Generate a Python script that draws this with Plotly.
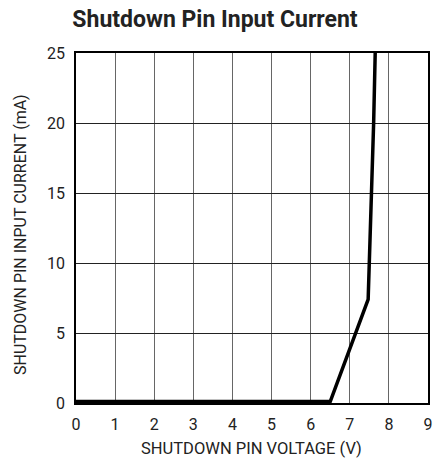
import plotly.graph_objects as go

voltage = [0, 6.5, 7.47, 7.5, 7.55, 7.61, 7.65]
current = [0.1, 0.1, 7.4, 10, 15, 20, 25]

x_ticks = [0, 1, 2, 3, 4, 5, 6, 7, 8, 9]
y_ticks = [0, 5, 10, 15, 20, 25]

font_family = "Liberation Sans Narrow, Roboto, Liberation Sans, Arial, sans-serif"
W, H = 435, 466

fig = go.Figure()
fig.add_trace(go.Scatter(x=voltage, y=current, mode="lines",
                         line=dict(color="black", width=3.5), cliponaxis=False,
                         showlegend=False, hoverinfo="skip"))

fig.update_layout(
    width=W, height=H,
    margin=dict(l=76, r=7, t=53, b=63),
    paper_bgcolor="white", plot_bgcolor="white",
    title=dict(text="<b>Shutdown Pin Input Current</b>", x=215/W, xanchor="center",
               y=1 - 19/H, yanchor="middle",
               font=dict(family=font_family, size=23, color="#222")),
    font=dict(family=font_family, color="#222"),
    annotations=[
        dict(text="SHUTDOWN PIN VOLTAGE (V)", xref="paper", yref="paper",
             x=(251 - 76) / (W - 83), y=-(448 - 403) / (H - 116),
             xanchor="center", yanchor="middle", showarrow=False,
             font=dict(size=16.5, color="#222")),
        dict(text="SHUTDOWN PIN INPUT CURRENT (mA)", xref="paper", yref="paper",
             x=-(76 - 20) / (W - 83), y=(403 - 235) / (H - 116), textangle=-90,
             xanchor="center", yanchor="middle", showarrow=False,
             font=dict(size=16, color="#222")),
    ],
)
fig.update_xaxes(range=[0, 9], tickvals=x_ticks, ticks="", showgrid=True,
                 gridcolor="#666", gridwidth=1.2, showline=True, linecolor="black",
                 linewidth=1.5, mirror=True, zeroline=False, automargin=False,
                 ticklabeloverflow="allow",
                 tickfont=dict(size=16), ticklabelstandoff=6)
fig.update_yaxes(range=[0, 25], tickvals=y_ticks, ticks="", showgrid=True,
                 gridcolor="#222", gridwidth=1, showline=True, linecolor="black",
                 linewidth=1.5, mirror=True, zeroline=False, automargin=False,
                 ticklabeloverflow="allow",
                 tickfont=dict(size=16), ticklabelstandoff=6)

fig.write_html("out.html", config={"displayModeBar": False},
               post_script="document.body.style.margin='0';document.body.style.overflow='hidden';")
